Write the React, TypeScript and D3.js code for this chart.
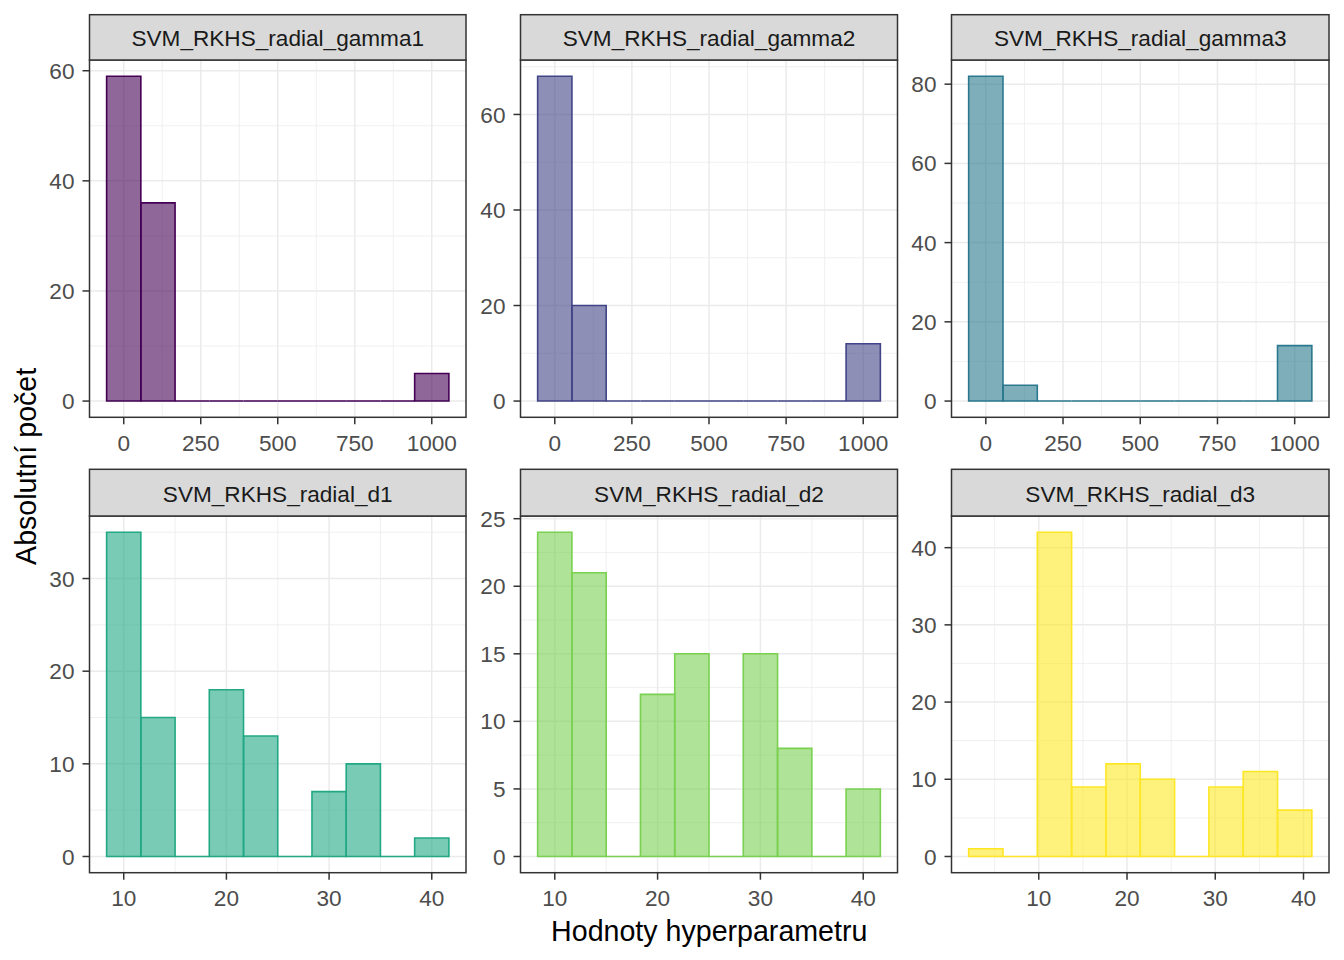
import React, { useEffect } from "react";
import * as d3 from "d3";

// ---- data ----
const panelNames = [
  "SVM_RKHS_radial_gamma1",
  "SVM_RKHS_radial_gamma2",
  "SVM_RKHS_radial_gamma3",
  "SVM_RKHS_radial_d1",
  "SVM_RKHS_radial_d2",
  "SVM_RKHS_radial_d3",
];
const panelColors = ["#440154", "#414487", "#2A788E", "#22A884", "#7AD151", "#FDE725"];
const binCount = 10;
const valueMin = [0, 0, 0, 10, 10, 4];
const valueMax = [1000, 1000, 1000, 40, 40, 39];
const countsGamma1 = [59, 36, 0, 0, 0, 0, 0, 0, 0, 5];
const countsGamma2 = [68, 20, 0, 0, 0, 0, 0, 0, 0, 12];
const countsGamma3 = [82, 4, 0, 0, 0, 0, 0, 0, 0, 14];
const countsD1 = [35, 15, 0, 18, 13, 0, 7, 10, 0, 2];
const countsD2 = [24, 21, 0, 12, 15, 0, 15, 8, 0, 5];
const countsD3 = [1, 0, 42, 9, 12, 10, 0, 9, 11, 6];
const panelCounts = [countsGamma1, countsGamma2, countsGamma3, countsD1, countsD2, countsD3];
const xTickValues = [
  [0, 250, 500, 750, 1000],
  [0, 250, 500, 750, 1000],
  [0, 250, 500, 750, 1000],
  [10, 20, 30, 40],
  [10, 20, 30, 40],
  [10, 20, 30, 40],
];
const yTickValues = [
  [0, 20, 40, 60],
  [0, 20, 40, 60],
  [0, 20, 40, 60, 80],
  [0, 10, 20, 30],
  [0, 5, 10, 15, 20, 25],
  [0, 10, 20, 30, 40],
];
const xTitle = "Hodnoty hyperparametru";
const yTitle = "Absolutní počet";

// ---- layout ----
const W = 1344;
const H = 960;
const colX: [number, number][] = [
  [89.5, 466],
  [520.5, 897.5],
  [951.5, 1329],
];
const rowY = [
  { stripTop: 14.7, panelTop: 60, panelBottom: 417.3 },
  { stripTop: 469.3, panelTop: 516, panelBottom: 872.7 },
];
const FONT = "'Liberation Sans', Arial, Helvetica, sans-serif";
const BORDER = "#333333";
const TICK_FS = 22.6;
const TITLE_FS = 28.6;

function minorBreaks(major: number[], domain: [number, number]) {
  const step = major[1] - major[0];
  const res: number[] = [];
  for (let i = -1; i < major.length; i++) {
    const v = major[0] + (i + 0.5) * step;
    if (v >= domain[0] && v <= domain[1]) res.push(v);
  }
  return res;
}

function Panel({ idx }: { idx: number }) {
  const col = idx % 3;
  const row = Math.floor(idx / 3);
  const [left, right] = colX[col];
  const { stripTop, panelTop, panelBottom } = rowY[row];
  const counts = panelCounts[idx];
  const lo = valueMin[idx];
  const hi = valueMax[idx];
  const w = (hi - lo) / (binCount - 1);
  const bins = counts.map((c, i) => {
    const center = lo + i * w;
    return { x0: center - w / 2, x1: center + w / 2, c };
  });
  const dx0 = lo - w / 2;
  const dx1 = hi + w / 2;
  const padX = (dx1 - dx0) * 0.05;
  const xDomain: [number, number] = [dx0 - padX, dx1 + padX];
  const maxC = d3.max(counts) as number;
  const yDomain: [number, number] = [-0.05 * maxC, 1.05 * maxC];
  const x = d3.scaleLinear().domain(xDomain).range([left, right]);
  const y = d3.scaleLinear().domain(yDomain).range([panelBottom, panelTop]);

  const xMaj = xTickValues[idx].filter((v) => v >= xDomain[0] && v <= xDomain[1]);
  const yMaj = yTickValues[idx];
  const xMin = minorBreaks(xTickValues[idx], xDomain);
  const yMin = minorBreaks(yMaj, yDomain);
  const color = panelColors[idx];

  const barPath = (b: { x0: number; x1: number; c: number }) => {
    const p = d3.path();
    p.moveTo(x(b.x0), y(0));
    p.lineTo(x(b.x1), y(0));
    p.lineTo(x(b.x1), y(b.c));
    p.lineTo(x(b.x0), y(b.c));
    p.closePath();
    return p.toString();
  };

  const stripMid = (stripTop + panelTop) / 2;

  return (
    <g>
      <rect x={left} y={panelTop} width={right - left} height={panelBottom - panelTop} fill="#FFFFFF" />
      {yMin.map((v) => (
        <line key={"ymn" + v} x1={left} x2={right} y1={y(v)} y2={y(v)} stroke="#EBEBEB" strokeWidth={0.75} />
      ))}
      {xMin.map((v) => (
        <line key={"xmn" + v} x1={x(v)} x2={x(v)} y1={panelTop} y2={panelBottom} stroke="#EBEBEB" strokeWidth={0.75} />
      ))}
      {yMaj.map((v) => (
        <line key={"ymj" + v} x1={left} x2={right} y1={y(v)} y2={y(v)} stroke="#EBEBEB" strokeWidth={1.5} />
      ))}
      {xMaj.map((v) => (
        <line key={"xmj" + v} x1={x(v)} x2={x(v)} y1={panelTop} y2={panelBottom} stroke="#EBEBEB" strokeWidth={1.5} />
      ))}
      {bins.map((b, i) => (
        <path
          key={"bar" + i}
          d={barPath(b)}
          fill={color}
          fillOpacity={0.6}
          stroke={color}
          strokeWidth={1.6}
          strokeLinejoin="miter"
        />
      ))}
      <rect
        x={left}
        y={panelTop}
        width={right - left}
        height={panelBottom - panelTop}
        fill="none"
        stroke={BORDER}
        strokeWidth={1.5}
      />
      {/* strip */}
      <rect
        x={left}
        y={stripTop}
        width={right - left}
        height={panelTop - stripTop}
        fill="#D9D9D9"
        stroke={BORDER}
        strokeWidth={1.5}
      />
      <text
        x={(left + right) / 2}
        y={stripMid + 9}
        textAnchor="middle"
        fontFamily={FONT}
        fontSize={TICK_FS}
        fill="#1A1A1A"
      >
        {panelNames[idx]}
      </text>
      {/* y axis */}
      {yMaj.map((v) => (
        <g key={"yt" + v}>
          <line x1={left - 7} x2={left} y1={y(v)} y2={y(v)} stroke={BORDER} strokeWidth={1.5} />
          <text
            x={left - 15}
            y={y(v) + 8.1}
            textAnchor="end"
            fontFamily={FONT}
            fontSize={TICK_FS}
            fill="#4D4D4D"
          >
            {v}
          </text>
        </g>
      ))}
      {/* x axis */}
      {xMaj.map((v) => (
        <g key={"xt" + v}>
          <line x1={x(v)} x2={x(v)} y1={panelBottom} y2={panelBottom + 7} stroke={BORDER} strokeWidth={1.5} />
          <text
            x={x(v)}
            y={panelBottom + 33.5}
            textAnchor="middle"
            fontFamily={FONT}
            fontSize={TICK_FS}
            fill="#4D4D4D"
          >
            {v}
          </text>
        </g>
      ))}
    </g>
  );
}

export default function App() {
  useEffect(() => {
    document.body.style.margin = "0";
  }, []);
  const centerY = (rowY[0].panelTop + rowY[1].panelBottom) / 2;
  return (
    <svg
      width={W}
      height={H}
      viewBox={`0 0 ${W} ${H}`}
      style={{ display: "block", position: "absolute", left: 0, top: 0, background: "#FFFFFF" }}
    >
      <rect x={0} y={0} width={W} height={H} fill="#FFFFFF" />
      {panelNames.map((_, i) => (
        <Panel key={i} idx={i} />
      ))}
      <text
        x={(colX[0][0] + colX[2][1]) / 2}
        y={940.5}
        textAnchor="middle"
        fontFamily={FONT}
        fontSize={TITLE_FS}
        fill="#000000"
      >
        {xTitle}
      </text>
      <text
        transform={`translate(35.5, ${centerY}) rotate(-90)`}
        textAnchor="middle"
        fontFamily={FONT}
        fontSize={TITLE_FS}
        fill="#000000"
      >
        {yTitle}
      </text>
    </svg>
  );
}
